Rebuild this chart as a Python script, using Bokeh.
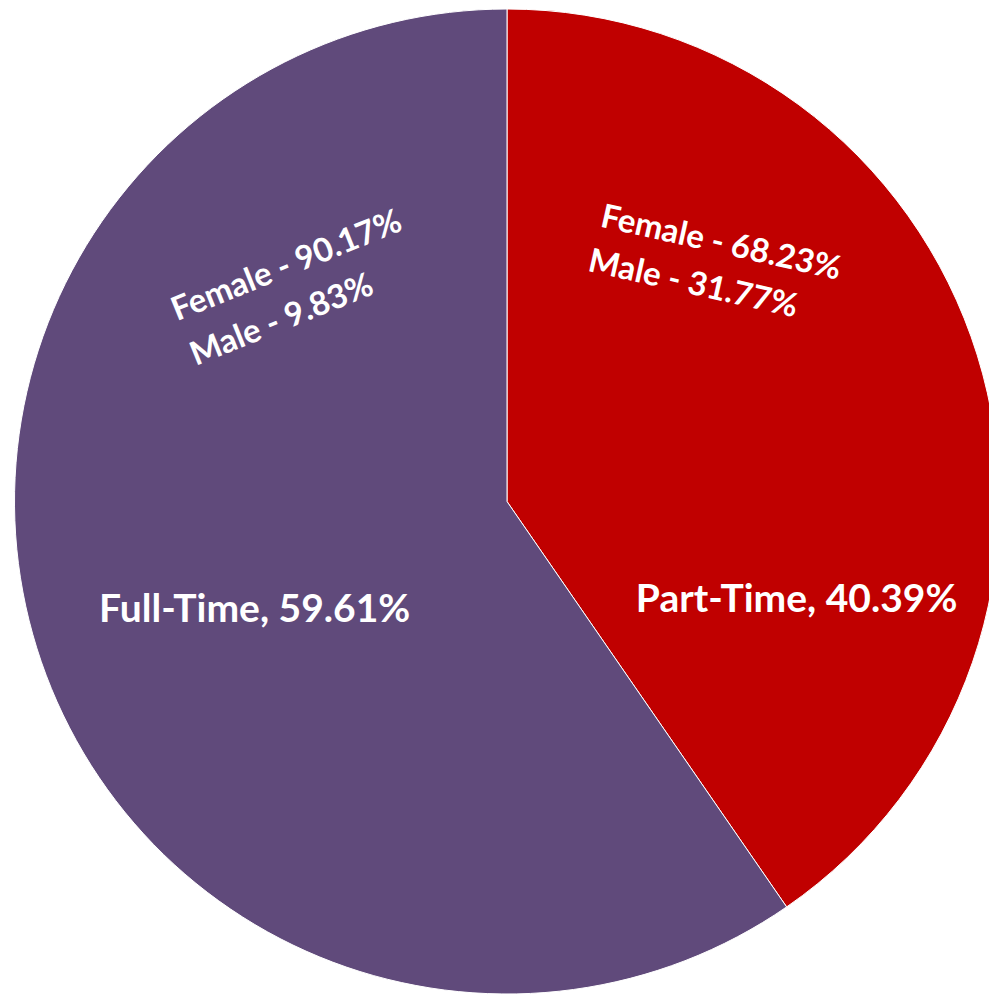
import math
from bokeh.plotting import figure
from bokeh.models import Range1d
from bokeh.core.properties import value
from bokeh.embed import file_html
from bokeh.resources import INLINE

# ---- data ----
categories = ["Part-Time", "Full-Time"]
shares = [40.39, 59.61]
colors = ["#C00000", "#604A7B"]
gender_labels = [["Female - 68.23%", "Male - 31.77%"],
                 ["Female - 90.17%", "Male - 9.83%"]]

# ---- layout ----
W, H = 989, 995
CX, CY, R = 506.5, 494.0, 492.5
FONT = "Lato"

p = figure(width=W, height=H, output_backend="svg", toolbar_location=None,
           x_range=Range1d(0, W), y_range=Range1d(0, H),
           min_border=0, outline_line_color=None)
p.axis.visible = False
p.grid.visible = False
p.background_fill_color = "white"
p.border_fill_color = "white"

total = sum(shares)
start = math.pi / 2
starts, ends = [], []
for s in shares:
    ang = 2 * math.pi * s / total
    starts.append(start)
    ends.append(start - ang)
    start -= ang

p.wedge(x=[CX] * len(shares), y=[CY] * len(shares), radius=R,
        start_angle=starts, end_angle=ends, direction="clock",
        fill_color=colors, line_color="white", line_width=1)

def polar(deg, frac):
    a = math.radians(deg)
    return CX + R * frac * math.cos(a), CY + R * frac * math.sin(a)

# main labels (polar placement)
main_pos = [(-18.2, 0.619), (202.6, 0.555)]
for cat, s, (d, f) in zip(categories, shares, main_pos):
    x, y = polar(d, f)
    p.text(x=[x], y=[y], text=[f"{cat}, {s:.2f}%"], text_color="white",
           text_font=value(FONT), text_font_style="bold", text_font_size="39px",
           text_align="center", text_baseline="middle")

# gender breakdown labels
gender_pos = [[(50.6, 0.686), (49.7, 0.586)], [(132.9, 0.660), (140.9, 0.592)]]
gender_rot = [-12.6, 22.0]
for labels, poss, rot in zip(gender_labels, gender_pos, gender_rot):
    for lab, (d, f) in zip(labels, poss):
        x, y = polar(d, f)
        p.text(x=[x], y=[y], text=[lab], text_color="white", angle=math.radians(rot),
               text_font=value(FONT), text_font_style="bold", text_font_size="33px",
               text_align="center", text_baseline="middle")

open("out.html", "w").write(file_html(p, INLINE))
